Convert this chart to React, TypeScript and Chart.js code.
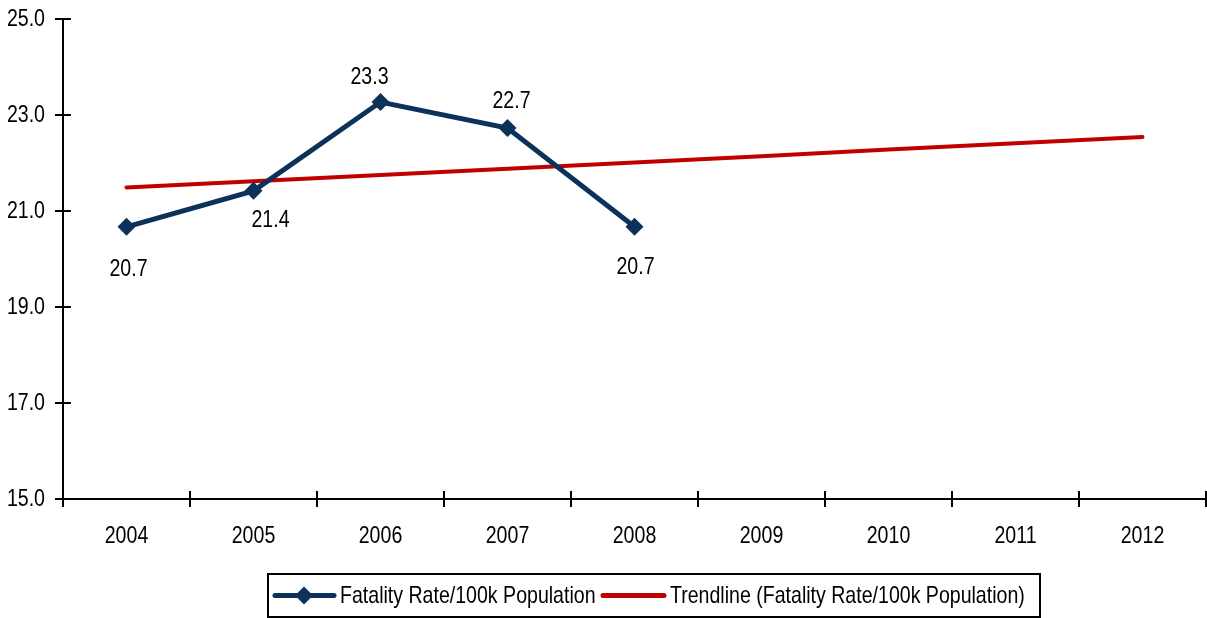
import React, { useEffect, useRef } from "react";
import { Chart, registerables } from "chart.js";

Chart.register(...registerables);

const years = ["2004", "2005", "2006", "2007", "2008", "2009", "2010", "2011", "2012"];
const fatalityRate = [20.67, 21.42, 23.27, 22.73, 20.67, null, null, null, null];
const trendline = [21.49, 21.62, 21.75, 21.88, 22.01, 22.14, 22.28, 22.41, 22.54];
const pointLabels = ["20.7", "21.4", "23.3", "22.7", "20.7"];
const yTickValues = [15, 17, 19, 21, 23, 25];
const seriesNames = ["Fatality Rate/100k Population", "Trendline (Fatality Rate/100k Population)"];

const NAVY = "#0C325A";
const RED = "#C00000";
const FONT = "'Liberation Sans', Arial, sans-serif";
const FS = 24;
const SX = 0.815; // horizontal condensing of the text

// label placement offsets (dx, dy) relative to the point, px
const labelOffsets = [
  [2, 43],
  [17, 30],
  [-11, -25],
  [4, -27],
  [1, 41],
];

function drawText(ctx: CanvasRenderingContext2D, text: string, x: number, y: number, align: CanvasTextAlign) {
  ctx.save();
  ctx.translate(x, y);
  ctx.scale(SX, 1);
  ctx.textAlign = align;
  ctx.textBaseline = "middle";
  ctx.fillText(text, 0, 0);
  ctx.restore();
}

const axesPlugin = {
  id: "customAxes",
  beforeDatasetsDraw(chart: any) {
    const { ctx, chartArea } = chart;
    const { left, right, top, bottom } = chartArea;
    const y = chart.scales.y;
    const x = chart.scales.x;
    ctx.save();
    ctx.strokeStyle = "#000";
    ctx.lineWidth = 2;
    ctx.beginPath();
    ctx.moveTo(left, top);
    ctx.lineTo(left, bottom);
    ctx.moveTo(left, bottom);
    ctx.lineTo(right, bottom);
    yTickValues.forEach((v) => {
      const py = Math.round(y.getPixelForValue(v));
      ctx.moveTo(left - 8, py);
      ctx.lineTo(left + 8, py);
    });
    const n = years.length;
    for (let i = 0; i <= n; i++) {
      const px = Math.round(left + ((right - left) * i) / n);
      ctx.moveTo(px, bottom - 8);
      ctx.lineTo(px, bottom + 8);
    }
    ctx.stroke();

    ctx.fillStyle = "#000";
    ctx.font = `${FS}px ${FONT}`;
    yTickValues.forEach((v) => {
      drawText(ctx, v.toFixed(1), left - 18, y.getPixelForValue(v), "right");
    });
    years.forEach((t, i) => {
      drawText(ctx, t, x.getPixelForValue(i), bottom + 37, "center");
    });
    ctx.restore();
  },
  afterDraw(chart: any) {
    const { ctx } = chart;
    const meta = chart.getDatasetMeta(0);
    ctx.save();
    ctx.fillStyle = "#000";
    ctx.font = `${FS}px ${FONT}`;
    pointLabels.forEach((t, i) => {
      const el = meta.data[i];
      if (!el) return;
      drawText(ctx, t, el.x + labelOffsets[i][0], el.y + labelOffsets[i][1], "center");
    });

    // legend
    const bx = 268, by = 574, bw = 772, bh = 43;
    ctx.strokeStyle = "#000";
    ctx.lineWidth = 2;
    ctx.strokeRect(bx, by, bw, bh);
    const cy = by + bh / 2;
    ctx.lineCap = "round";
    ctx.strokeStyle = NAVY;
    ctx.lineWidth = 5;
    ctx.beginPath();
    ctx.moveTo(275, cy);
    ctx.lineTo(334, cy);
    ctx.stroke();
    ctx.fillStyle = NAVY;
    ctx.beginPath();
    ctx.moveTo(304, cy - 9);
    ctx.lineTo(313, cy);
    ctx.lineTo(304, cy + 9);
    ctx.lineTo(295, cy);
    ctx.closePath();
    ctx.fill();
    ctx.strokeStyle = RED;
    ctx.beginPath();
    ctx.moveTo(603, cy);
    ctx.lineTo(664, cy);
    ctx.stroke();
    ctx.fillStyle = "#000";
    drawText(ctx, seriesNames[0], 340, cy + 1, "left");
    drawText(ctx, seriesNames[1], 670, cy + 1, "left");
    ctx.restore();
  },
};

export default function App() {
  const ref = useRef<HTMLCanvasElement>(null);
  useEffect(() => {
    document.body.style.margin = "0";
    const chart = new Chart(ref.current!, {
      type: "line",
      data: {
        labels: years,
        datasets: [
          {
            label: seriesNames[0],
            data: fatalityRate,
            borderColor: NAVY,
            backgroundColor: NAVY,
            borderWidth: 5,
            pointStyle: "rectRot",
            pointRadius: 9,
            pointBackgroundColor: NAVY,
            pointBorderColor: NAVY,
            pointBorderWidth: 0,
            tension: 0,
            spanGaps: false,
          },
          {
            label: seriesNames[1],
            data: trendline,
            borderColor: RED,
            backgroundColor: RED,
            borderWidth: 4,
            pointRadius: 0,
            borderCapStyle: "round",
            tension: 0,
          },
        ],
      },
      options: {
        animation: false,
        responsive: false,
        maintainAspectRatio: false,
        layout: { autoPadding: false, padding: { top: 19, right: 1, left: 0, bottom: 0 } },
        plugins: { legend: { display: false }, tooltip: { enabled: false } },
        scales: {
          x: {
            offset: true,
            grid: { display: false },
            border: { display: false },
            ticks: { display: false },
            afterFit: (s: any) => {
              s.height = 119;
            },
          },
          y: {
            min: 15,
            max: 25,
            grid: { display: false },
            border: { display: false },
            ticks: { display: false, stepSize: 2 },
            afterFit: (s: any) => {
              s.width = 63;
            },
          },
        },
      },
      plugins: [axesPlugin],
    });
    return () => chart.destroy();
  }, []);
  return (
    <div style={{ width: 1207, height: 618 }}>
      <canvas ref={ref} width={1207} height={618} style={{ display: "block" }} />
    </div>
  );
}
